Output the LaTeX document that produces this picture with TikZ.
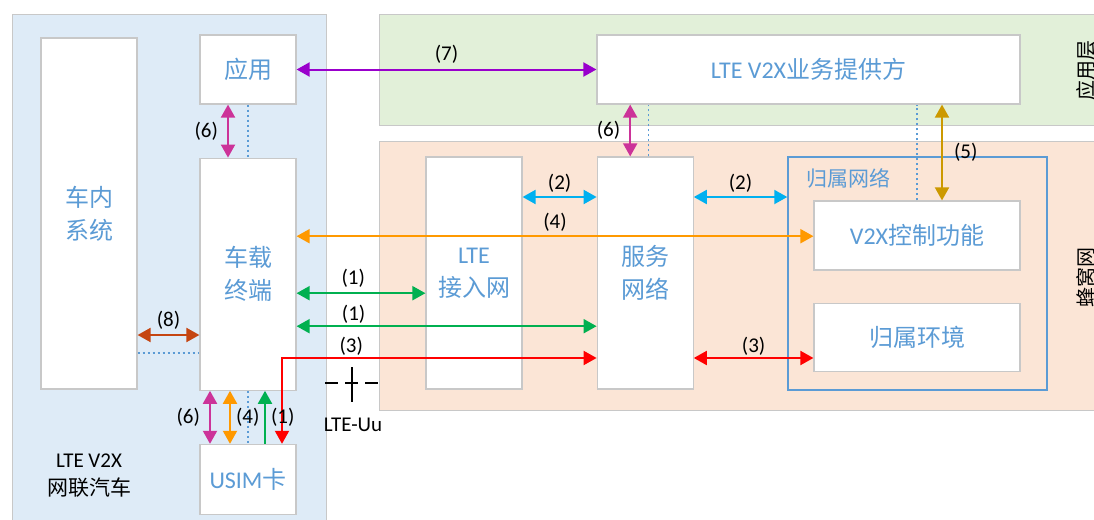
\documentclass[tikz,border=0pt]{standalone}
\usepackage{fontspec}
\setmainfont{Noto Sans CJK SC}
\newfontfamily\lat{Carlito}
\usetikzlibrary{arrows.meta, positioning, calc}
\definecolor{txtc}{RGB}{91,155,213}
\definecolor{edgec}{RGB}{200,200,200}
\definecolor{carc}{RGB}{222,235,247}
\definecolor{appc}{RGB}{226,240,217}
\definecolor{cellc}{RGB}{251,229,214}
\definecolor{purc}{RGB}{153,0,204}
\definecolor{magc}{RGB}{204,51,153}
\definecolor{orac}{RGB}{255,153,0}
\definecolor{goldc}{RGB}{204,153,0}
\definecolor{cyac}{RGB}{0,176,240}
\definecolor{grnc}{RGB}{0,176,80}
\definecolor{redc}{RGB}{255,0,0}
\definecolor{brnc}{RGB}{197,69,17}

\begin{document}
\begin{tikzpicture}[x=1pt, y=-1pt,
    blk/.style={draw=edgec, line width=1.2pt, fill=white, text=txtc, align=center,
      font=\fontsize{24}{33}\selectfont, minimum width=96pt, inner sep=0pt},
    layer/.style={draw=edgec, line width=1pt},
    lbl/.style={font=\lat\fontsize{21}{24}\selectfont, text=black, inner sep=1pt},
    biarr/.style={{Triangle[length=13pt,width=14pt]}-{Triangle[length=13pt,width=14pt]},
      line width=2pt},
    arr/.style={-{Triangle[length=13pt,width=14pt]}, line width=2pt},
    dotl/.style={draw=txtc, line width=1.4pt, dash pattern=on 2.5pt off 2.5pt}]
  \useasboundingbox (0,0) rectangle (1094,519);
  % layers
  \draw[layer, fill=carc] (12,15) rectangle (326,530);
  \draw[layer, fill=appc] (379,15) rectangle (1100,125);
  \draw[layer, fill=cellc] (379,141) rectangle (1100,410);
  \node[rotate=90, font=\fontsize{20}{24}\selectfont] (applyr) at (1086,70) {应用层};
  \node[rotate=90, font=\fontsize{20}{24}\selectfont] (celllyr) at (1086,277) {蜂窝网};
  % vehicle
  \node[blk, minimum height=351pt] (ivs) at (89,213.5) {车内\\系统};
  \node[blk, minimum height=69pt] (app) at (248,69.5) {应用};
  \node[blk, minimum height=232pt, below=53pt of app] (obu) {车载\\终端};
  \node[blk, minimum height=70pt, below=53pt of obu] (usim) {{\lat USIM}卡};
  \node[font=\fontsize{21}{28}\selectfont, align=center] (carlbl) at (89,476)
    {{\lat LTE V2X}\\网联汽车};
  % network
  \node[blk, minimum width=423pt, minimum height=69pt] (sp) at (808.5,69.5)
    {{\lat LTE V2X}业务提供方};
  \node[blk, minimum height=232pt] (ran) at (474,273) {{\lat LTE}\\接入网};
  \node[blk, minimum height=232pt, right=74pt of ran] (sn) {服务\\网络};
  \node[draw=txtc, line width=1.5pt, minimum width=259pt, minimum height=233pt,
    inner sep=0pt] (hn) at (917.5,273.5) {};
  \node[text=txtc, font=\fontsize{21}{24}\selectfont] (hnlbl) at (848,178) {归属网络};
  \node[blk, minimum width=206pt, minimum height=69pt] (ctrl) at (917,235.5)
    {{\lat V2X}控制功能};
  \node[blk, minimum width=206pt, minimum height=68pt, below=32pt of ctrl] (he) {归属环境};
  % LTE-Uu
  \coordinate (uu) at (352,383);
  \draw[line width=1.2pt, dash pattern=on 13pt off 7pt] ([xshift=-27pt]uu) -- ([xshift=27pt]uu);
  \draw[line width=1.2pt] ([yshift=16pt]uu) -- ([yshift=-19pt]uu);
  \node[lbl] (uulbl) at (353,425) {LTE-Uu};
  % dotted
  \draw[dotl] (app) -- (obu);
  \draw[dotl] (obu) -- (usim);
  \draw[dotl] ([xshift=3pt]sn.north) -- ([xshift=3pt]sn.north |- sp.south);
  \draw[dotl] (ctrl.north) -- (ctrl.north |- sp.south);
  \draw[dotl] ([yshift=-139.5pt]ivs.east) -- ([yshift=-139.5pt]ivs.east -| obu.west);
  % interfaces
  \draw[biarr, purc] (app) -- node[lbl, above=4pt] {(7)} (sp);
  \draw[biarr, magc] ([xshift=-20pt]app.south) -- node[lbl, left=8pt] {(6)}
    ([xshift=-20pt]obu.north);
  \draw[biarr, magc] ([xshift=-15pt]sn.north) -- node[lbl, left=8pt] {(6)}
    ([xshift=-15pt]sn.north |- sp.south);
  \draw[biarr, goldc] ([xshift=25pt]ctrl.north) -- node[lbl, right=10pt] {(5)}
    ([xshift=25pt]ctrl.north |- sp.south);
  \draw[biarr, cyac] ([yshift=76pt]ran.east) -- node[lbl, above=3pt] {(2)}
    ([yshift=76pt]sn.west);
  \draw[biarr, cyac] ([yshift=76pt]sn.east) -- node[lbl, above=3pt] {(2)}
    ([yshift=76pt]sn.east -| hn.west);
  \draw[biarr, orac] ([yshift=38pt]obu.east) -- node[lbl, above=3pt] {(4)}
    ([yshift=38pt]obu.east -| ctrl.west);
  \draw[biarr, grnc] ([yshift=-19pt]obu.east) -- node[lbl, above=4pt, pos=0.44] {(1)}
    ([yshift=-19pt]obu.east -| ran.west);
  \draw[biarr, grnc] ([yshift=-52pt]obu.east) -- node[lbl, above=1pt, pos=0.19] {(1)}
    ([yshift=-52pt]obu.east -| sn.west);
  \draw[biarr, redc] ([xshift=34pt]usim.north) |- node[lbl, above=1pt, pos=0.61] {(3)}
    ([yshift=-85pt]sn.west);
  \draw[biarr, redc] ([yshift=-85pt]sn.east) -- node[lbl, above=1pt] {(3)}
    ([yshift=-85pt]sn.east -| he.west);
  \draw[biarr, brnc] ([yshift=-121.5pt]ivs.east) -- node[lbl, above=4pt] {(8)}
    ([yshift=-121.5pt]ivs.east -| obu.west);
  \draw[biarr, magc] ([xshift=-38pt]obu.south) -- node[lbl, left=8pt] {(6)}
    ([xshift=-38pt]usim.north);
  \draw[biarr, orac] ([xshift=-18pt]obu.south) -- node[lbl, right=4pt] {(4)}
    ([xshift=-18pt]usim.north);
  \draw[arr, grnc] ([xshift=17pt]usim.north) -- node[lbl, right=4pt] {(1)}
    ([xshift=17pt]obu.south);
\end{tikzpicture}
\end{document}
